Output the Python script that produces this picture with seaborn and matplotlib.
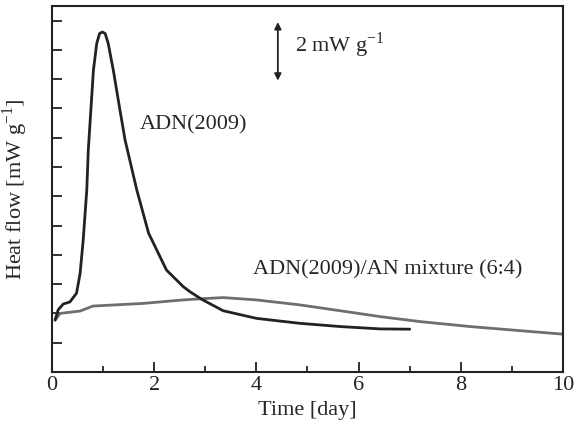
import seaborn as sns
import matplotlib.pyplot as plt
import pandas as pd

# ADN(2009) heat flow curve [day, mW/g]
adn_day = [0.06, 0.12, 0.22, 0.35, 0.48, 0.55, 0.61, 0.68, 0.71, 0.76, 0.81, 0.875,
           0.93, 0.985, 1.04, 1.10, 1.20, 1.33, 1.43, 1.66, 1.89, 2.24, 2.57, 2.70,
           2.93, 3.35, 4.00, 4.85, 5.64, 6.42, 7.00]
adn_flow = [1.77, 2.12, 2.32, 2.39, 2.69, 3.37, 4.50, 6.21, 7.58, 8.94, 10.3, 11.22,
            11.56, 11.61, 11.56, 11.22, 10.3, 8.94, 7.92, 6.21, 4.74, 3.48, 2.91, 2.74,
            2.48, 2.09, 1.83, 1.66, 1.55, 1.47, 1.46]

# ADN(2009)/AN mixture (6:4)
mix_day = [0.06, 0.16, 0.55, 0.80, 1.78, 2.57, 2.93, 3.35, 4.00, 4.85, 5.64, 6.42,
           7.20, 8.18, 9.16, 10.0]
mix_flow = [1.77, 2.00, 2.08, 2.25, 2.34, 2.46, 2.50, 2.54, 2.46, 2.29, 2.09, 1.89,
            1.72, 1.55, 1.41, 1.29]

sns.set_style('ticks')
plt.rcParams['font.family'] = ['Liberation Serif', 'DejaVu Serif']
plt.rcParams['mathtext.fontset'] = 'custom'
plt.rcParams['mathtext.rm'] = 'Liberation Serif'

df_adn = pd.DataFrame({'day': adn_day, 'flow': adn_flow})
df_mix = pd.DataFrame({'day': mix_day, 'flow': mix_flow})

fig = plt.figure(figsize=(5.78, 4.28), dpi=100)
ax = fig.add_axes([0.09, 0.131, 0.884, 0.855])

sns.lineplot(data=df_mix, x='day', y='flow', color='#6e6e6e', lw=2.0, ax=ax,
             solid_joinstyle='round')
sns.lineplot(data=df_adn, x='day', y='flow', color='#222222', lw=2.0, ax=ax,
             solid_joinstyle='round')

ax.set_xlim(0, 10)
ax.set_ylim(0, 12.5)
ax.set_xticks([0, 2, 4, 6, 8, 10])
ax.set_xticks([1, 3, 5, 7, 9], minor=True)
ax.set_yticks(range(1, 13))
ax.set_yticklabels([])
ax.tick_params(axis='both', which='major', direction='in', length=7, width=1.3,
               labelsize=16, colors='#222222')
ax.tick_params(axis='x', which='minor', direction='in', length=4, width=1.3)
ax.tick_params(axis='x', pad=3)
for s in ax.spines.values():
    s.set_linewidth(1.5)
    s.set_color('#222222')

ax.set_xlabel('Time [day]', fontsize=16, labelpad=4)
ax.set_ylabel(r'Heat flow [mW g$^{\mathregular{-1}}$]', fontsize=16, labelpad=12)

ax.annotate('', xy=(4.42, 11.95), xytext=(4.42, 9.95),
            arrowprops=dict(arrowstyle='<|-|>', color='#222222', lw=1.3,
                            mutation_scale=10, shrinkA=0, shrinkB=0))
ax.text(4.76, 11.16, r'2 mW g$^{\mathregular{-1}}$', fontsize=16, va='center')
ax.text(1.72, 8.43, 'ADN(2009)', fontsize=16, va='center')
ax.text(3.93, 3.48, 'ADN(2009)/AN mixture (6:4)', fontsize=16, va='center')

fig.savefig('out.png', dpi=100)
